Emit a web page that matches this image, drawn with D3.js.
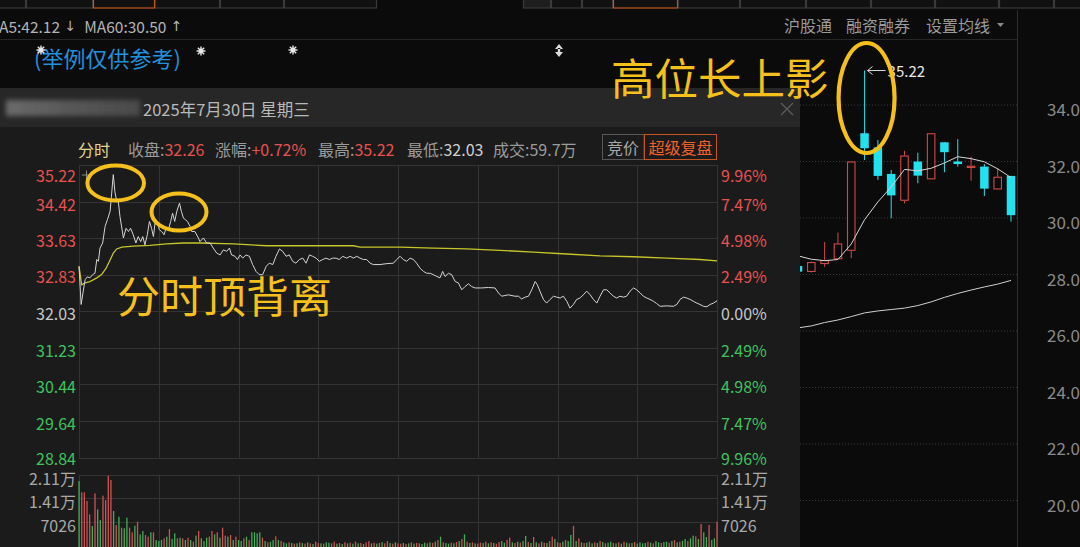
<!DOCTYPE html>
<html><head><meta charset="utf-8">
<script src="https://cdn.jsdelivr.net/npm/d3@7"></script>
<style>
html,body{margin:0;padding:0;background:#0b0b0b;overflow:hidden}
svg{display:block}
text{font-family:"Noto Sans CJK SC","Noto Sans",sans-serif}
</style></head><body>
<svg id="c" width="1080" height="547"></svg>
<script>
// ---------------- DATA ----------------
const prevClose = 32.03;
const priceTicks = [35.22,34.42,33.63,32.83,32.03,31.23,30.44,29.64,28.84];
const pctLabels = ["9.96%","7.47%","4.98%","2.49%","0.00%","2.49%","4.98%","7.47%","9.96%"];
const volTicks = [21100,14100,7026];
const volTickLabels = ["2.11万","1.41万","7026"];
const gridMinutes = [0,30,60,90,120,150,180,210,240];

const lineMinutes = [0,0.8,1.6,2.3,3.1,4.1,5.1,6.0,6.7,7.3,7.9,8.9,9.8,10.7,11.7,12.3,12.9,13.5,14.2,14.8,15.4,16.7,17.7,18.6,19.4,20.4,21.4,22.3,23.2,24.0,24.8,25.7,26.5,27.3,28.0,28.6,29.5,30.2,31.1,32.0,32.7,33.6,34.5,35.2,36.0,36.8,37.8,38.5,39.3,40.0,40.8,41.8,42.4,43.6,44.9,45.5,46.8,48.0,49.3,50.5,51.8,53.1,54.3,55.6,56.6,57.4,58.7,59.6,60.6,61.6,62.8,64.1,65.3,66.6,67.8,69.1,70.4,71.6,72.9,74.1,75.4,76.6,77.9,79.1,80.4,81.6,82.9,84.2,85.4,86.7,87.9,89.2,90.4,91.7,92.9,94.2,95.4,96.7,97.9,99.2,100.7,102.0,103.2,104.5,105.7,107.0,108.2,109.5,110.7,113.2,115.8,118.3,119.5,120.8,122.0,123.3,124.5,125.8,127.0,128.3,129.6,130.8,132.1,133.3,134.6,135.8,136.8,137.7,139.0,140.2,141.5,142.7,144.0,145.2,146.5,147.7,149.0,151.5,154.0,156.5,157.8,159.0,161.5,164.0,165.3,166.5,167.8,169.1,170.3,171.6,172.4,173.4,174.7,175.9,177.2,178.5,179.7,181.0,182.2,183.5,184.7,186.0,187.2,188.5,189.7,191.0,192.3,193.5,194.8,196.0,197.3,198.5,199.8,201.0,202.3,203.5,204.8,206.0,207.3,208.6,209.8,211.1,212.3,213.6,214.8,216.1,217.3,218.6,221.1,223.6,224.9,226.1,227.4,228.6,229.9,231.1,232.4,233.6,234.9,236.2,237.4,238.7,240];
const linePrices = [33.01,32.18,32.47,32.72,32.78,32.76,32.83,32.86,33.16,33.12,33.41,33.52,33.88,34.03,34.21,34.61,35.01,34.64,34.42,34.42,34.10,33.63,33.84,33.77,33.84,33.70,33.52,33.66,33.55,33.66,33.48,33.70,33.99,33.84,33.66,33.95,33.99,33.81,33.77,33.70,33.84,33.81,33.99,34.17,33.99,34.21,34.39,34.21,34.06,34.03,33.99,33.88,33.77,33.77,33.63,33.55,33.63,33.52,33.52,33.41,33.30,33.26,33.37,33.34,33.41,33.26,33.23,33.16,33.26,33.19,33.26,33.23,33.05,32.90,32.83,32.83,33.01,33.08,33.05,33.23,33.39,33.34,33.23,33.26,33.12,33.08,33.16,33.19,33.08,33.26,33.23,33.19,33.12,33.16,33.19,33.16,33.19,33.19,33.16,33.23,33.19,33.23,33.19,33.23,33.19,33.16,33.16,33.08,33.05,33.05,33.07,33.08,33.16,33.23,33.16,33.12,33.19,33.16,33.08,32.97,32.90,32.86,32.86,32.83,32.79,32.76,32.90,32.79,32.86,32.83,32.68,32.65,32.50,32.57,32.63,32.57,32.54,32.54,32.55,32.54,32.43,32.36,32.39,32.36,32.36,32.30,32.34,32.36,32.50,32.68,32.61,32.47,32.29,32.21,32.29,32.36,32.34,32.32,32.36,32.25,32.10,32.18,32.29,32.32,32.39,32.47,32.39,32.29,32.21,32.36,32.50,32.50,32.43,32.36,32.32,32.36,32.34,32.36,32.47,32.54,32.50,32.43,32.36,32.32,32.29,32.25,32.20,32.14,32.15,32.14,32.18,32.29,32.34,32.32,32.29,32.25,32.21,32.18,32.14,32.13,32.18,32.21,32.26];

const avgMinutes = [0,1.0,2.3,4.1,6.7,8.5,10.2,11.7,12.9,14.2,16.1,20.4,26.7,33.0,39.3,45.5,58.1,70.6,83.1,103.2,105.7,120.8,133.3,145.9,158.4,170.9,183.5,196.0,208.6,221.1,233.6,240];
const avgPrices = [33.01,32.61,32.65,32.68,32.76,32.83,32.97,33.15,33.30,33.39,33.43,33.45,33.47,33.50,33.52,33.52,33.50,33.46,33.46,33.46,33.43,33.43,33.41,33.39,33.36,33.32,33.28,33.24,33.22,33.19,33.16,33.13];

const volumes = [19200,15800,15800,13200,9200,5700,15500,10700,7500,14800,
13500,20800,19500,10200,6000,8500,5200,5000,8200,5200,
3800,5800,7000,3200,4200,3000,2500,3800,3800,1500,
1200,1500,2000,2500,4800,1800,3500,2000,2200,2000,
1500,2200,1500,1000,2800,4200,2000,1200,2200,2500,
4200,3200,3800,2200,5200,2800,2500,3000,1500,2500,
1500,1200,2000,2500,1500,3800,3800,3500,3800,2200,
1200,800,1000,1500,2600,1500,1200,800,500,800,
600,400,500,800,
600,400,800,500,300,1000,600,500,400,800,
700,500,1000,400,600,300,800,500,700,400,
1000,500,600,300,800,1200,500,700,400,600,
900,500,1200,600,400,800,500,
400,600,300,500,800,400,600,500,300,700,
500,800,600,1000,1500,2500,800,600,400,700,
500,900,1200,1800,3200,1000,600,800,500,400,
700,600,1000,500,800,600,400,900,1200,700,
1500,2200,800,600,1000,700,1200,2700,900,600,
2400,800,500,1000,700,600,1200,2500,1800,800,
600,1000,1500,1200,3000,5700,1200,2000,800,600,
700,1000,500,800,600,1200,900,500,700,1000,
600,500,800,400,1000,700,500,600,900,400,
800,500,600,1000,700,500,1200,800,600,900,
1000,700,1200,1500,800,1000,1300,1800,1200,2000,
2800,2600,1800,6300,3800,2400,6000,1500,2000,7000];
const volumeDirs =
 "grrrrgrggr"+"rrrgrgrggr"+"rgrggrrgrg"+"ggrgrggrgr"+"grgrgrgggr"+"rgrgrrgrgr"+"ggrgrggggr"+"grggrgrggr"+"grgr"+
 "grgrgrrgrg"+"grrgrgrgrg"+"rgrgrrgrgr"+"grrgrgr"+
 "rgrgrgrrgg"+"rgrgrgrggr"+"grgrgrgrgr"+"rgrgrgrrgg"+"rrgrgrggrg"+"rgrgrgrrgr"+
 "rgrggrgrgr"+"grgrgrgrgg"+"rgrgrgrgrg"+"gggrgrggrg"+"grgrgrggrg"+"grgrggrggr";

// daily K-line (last 17 sessions; index 5 is 2025-07-30)
const kOpen  = [28.30,28.09,28.37,28.54,28.84,33.00,32.50,31.56,30.61,32.00,31.37,32.68,32.00,31.77,31.82,31.01,31.49];
const kClose = [28.10,28.44,28.51,29.10,32.00,32.47,31.49,30.80,32.21,31.50,33.00,32.33,31.91,31.85,31.04,31.46,30.10];
const kHigh  = [28.35,28.46,29.15,29.48,32.00,35.22,32.76,31.70,32.38,32.31,33.00,32.68,32.79,32.17,31.91,31.76,31.49];
const kLow   = [28.05,28.07,28.27,28.54,28.58,32.05,31.35,29.99,30.52,31.23,31.37,31.62,31.82,31.32,30.78,31.01,29.87];
const kMA5   = [28.66,28.54,28.49,28.53,29.08,29.94,30.57,31.10,31.72,31.67,31.76,31.95,32.17,32.10,31.99,31.74,31.43];
const kMA60  = [26.11,26.18,26.30,26.39,26.51,26.64,26.71,26.76,26.81,26.90,27.03,27.19,27.33,27.45,27.56,27.66,27.79];
const kTicks = [34,32,30,28,26,24,22,20];
const kHighLabel = "35.22";

const infoNames  = ["收盘:","涨幅:","最高:","最低:","成交:"];
const infoValues = ["32.26","+0.72%","35.22","32.03","59.7万"];
const topLinks = ["沪股通","融资融券","设置均线"];

// ---------------- DRAW ----------------
const svg = d3.select("#c");
const RED = "#e6524f", GREEN = "#3fc35e", GREY = "#c8c8c8";
const YEL = "#f5c01c";

svg.append("rect").attr("width",1080).attr("height",547).attr("fill","#0b0b0b");
const defs = svg.append("defs");

// top tab bar (mostly cut off)
const tabsL = [-2,26,93,155,220,284,377];
const tabsR = [523,551,582,613,678,740,806,871,935,999,1054,1084];
function tabs(edges, hot, firstGrey){
  for(let i=0;i<edges.length-1;i++){
    svg.append("rect").attr("x",edges[i]+0.5).attr("y",-8).attr("width",edges[i+1]-edges[i]-1).attr("height",16)
      .attr("fill", (firstGrey && i===0) ? "#1e1e1e" : "#111").attr("stroke", i===hot?"#c9561f":"#3a3a3a").attr("stroke-width",1.2);
  }
}
tabs(tabsL,2,false); tabs(tabsR,3,true);

// MA row
const maRow = svg.append("text").attr("x",-1).attr("y",26).attr("dominant-baseline","central")
  .attr("font-size",15.5).attr("fill","#b4b4b4").attr("xml:space","preserve");
maRow.append("tspan").text("A5:42.12");
maRow.append("tspan").attr("font-family","DejaVu Sans").attr("font-size",14).text(" ↓ ");
maRow.append("tspan").text(" MA60:30.50");
maRow.append("tspan").attr("font-family","DejaVu Sans").attr("font-size",14).text(" ↑");
const linkX = [784,846,926];
topLinks.forEach((t,i)=>{
  svg.append("text").attr("x",linkX[i]).attr("y",25).attr("dominant-baseline","central").attr("font-size",16)
    .attr("fill","#9a9a9a").text(t);
});
svg.append("path").attr("d","M997,23 L1004,23 L1000.5,27 Z").attr("fill","#8a8a8a");
svg.append("line").attr("x1",0).attr("x2",1017).attr("y1",39.5).attr("y2",39.5).attr("stroke","#262626");
svg.append("line").attr("x1",1017.5).attr("x2",1017.5).attr("y1",10).attr("y2",547).attr("stroke","#2e2e2e");

// blue caption + small icons
svg.append("text").attr("x",34).attr("y",57).attr("dominant-baseline","central").attr("font-size",22)
  .attr("fill","#2390dc").text("(举例仅供参考)");
[[41,50],[201,51],[293,50]].forEach(([cx,cy])=>{
  const g = svg.append("g").attr("transform",`translate(${cx},${cy})`);
  for(let a=0;a<8;a++){
    const ang = a*Math.PI/4;
    g.append("line").attr("x1",0).attr("y1",0).attr("x2",4.5*Math.cos(ang)).attr("y2",4.5*Math.sin(ang))
      .attr("stroke","#e8e8e8").attr("stroke-width",1.4);
  }
  g.append("circle").attr("r",2.4).attr("fill","#e8e8e8");
});
svg.append("path").attr("d","M559,44 L555,49 L563,49 Z M555,52 L563,52 L559,57 Z M557.8,48 h2.4 v5 h-2.4 Z").attr("fill","#dcdcdc");

// ---------- K-line ----------
const kx = d3.scalePoint().domain(d3.range(kOpen.length)).range([798,1011]);
const ky = d3.scaleLinear().domain([20,34]).range([500.5,105]);
defs.append("clipPath").attr("id","kclip").append("rect")
  .attr("x",800).attr("y",40).attr("width",218).attr("height",507);
const kg = svg.append("g").attr("clip-path","url(#kclip)");
kTicks.forEach(t=>{
  kg.append("line").attr("x1",800).attr("x2",1022).attr("y1",ky(t)).attr("y2",ky(t))
    .attr("stroke","#3a3a3a").attr("stroke-dasharray","1,2");
});
svg.selectAll(".ktick").data(kTicks).enter().append("text").attr("class","ktick")
  .attr("x",1047).attr("y",d=>ky(d)+3.5).attr("dominant-baseline","central")
  .attr("font-size",17).attr("fill","#8a8a8a").text(d=>d.toFixed(2));
const lineK = (arr)=> d3.line().x((d,i)=>kx(i)).y(d=>ky(d))(arr);
kg.append("path").attr("d",lineK(kMA60)).attr("fill","none").attr("stroke","#cfcfcf").attr("stroke-width",1);
const CW = 8.5;
kOpen.forEach((o,i)=>{
  const c = kClose[i], h = kHigh[i], l = kLow[i], cx = kx(i);
  const up = c >= o;
  const top = ky(Math.max(o,c)), bot = ky(Math.min(o,c));
  const col = up ? "#d24a48" : "#22e2ef";
  if(up){
    kg.append("line").attr("x1",cx).attr("x2",cx).attr("y1",ky(h)).attr("y2",top).attr("stroke",col);
    kg.append("line").attr("x1",cx).attr("x2",cx).attr("y1",bot).attr("y2",ky(l)).attr("stroke",col);
    kg.append("rect").attr("x",cx-CW/2+0.5).attr("y",top+0.5).attr("width",CW-1).attr("height",Math.max(bot-top-1,1))
      .attr("fill","#0b0b0b").attr("stroke",col).attr("stroke-width",1.1);
  } else {
    kg.append("line").attr("x1",cx).attr("x2",cx).attr("y1",ky(h)).attr("y2",ky(l)).attr("stroke",col);
    kg.append("rect").attr("x",cx-CW/2).attr("y",top).attr("width",CW).attr("height",Math.max(bot-top,1.5)).attr("fill",col);
  }
});
kg.append("path").attr("d",lineK(kMA5)).attr("fill","none").attr("stroke","#d6d6d6").attr("stroke-width",1);

// high label on the highlighted session
const hiIdx = kHigh.indexOf(d3.max(kHigh));
const hx = kx(hiIdx), hy = ky(kHigh[hiIdx]);
svg.append("line").attr("x1",hx+3).attr("x2",hx+21).attr("y1",hy).attr("y2",hy).attr("stroke","#dcdcdc");
svg.append("path").attr("d",`M${hx+8},${hy-4} L${hx+3},${hy} L${hx+8},${hy+4}`).attr("fill","none").attr("stroke","#dcdcdc");
svg.append("text").attr("x",hx+23).attr("y",hy).attr("dominant-baseline","central").attr("font-size",15)
  .attr("fill","#e6e6e6").text(kHighLabel);
svg.append("ellipse").attr("cx",hx+2).attr("cy",98).attr("rx",28).attr("ry",55)
  .attr("fill","none").attr("stroke",YEL).attr("stroke-width",4.2);

// ---------- Popup (intraday) ----------
const pop = svg.append("g");
pop.append("rect").attr("x",0).attr("y",88).attr("width",800).attr("height",459).attr("fill","#1b1b1b");
pop.append("rect").attr("x",0).attr("y",88).attr("width",800).attr("height",39).attr("fill","#272727");
const bl = defs.append("filter").attr("id","blur").attr("x","-20%").attr("y","-50%").attr("width","140%").attr("height","200%");
bl.append("feGaussianBlur").attr("stdDeviation",2.5);
const gr = defs.append("linearGradient").attr("id","bg1");
gr.append("stop").attr("offset","0").attr("stop-color","#6a6a6a");
gr.append("stop").attr("offset","0.5").attr("stop-color","#565656");
gr.append("stop").attr("offset","1").attr("stop-color","#4a4a4a");
pop.append("rect").attr("x",6).attr("y",100).attr("width",134).attr("height",16).attr("fill","url(#bg1)").attr("filter","url(#blur)");
pop.append("text").attr("x",143).attr("y",109).attr("dominant-baseline","central").attr("font-size",16.5)
  .attr("fill","#b9b9b9").text("2025年7月30日 星期三");
pop.append("path").attr("d","M781,103 L793,115 M793,103 L781,115").attr("stroke","#5e5e5e").attr("stroke-width",1.2);

// info row
pop.append("text").attr("x",78).attr("y",149).attr("dominant-baseline","central").attr("font-size",16)
  .attr("fill","#e2d68c").text("分时");
const infoX = [128,215,318,407,493];
infoNames.forEach((n,i)=>{
  const t = pop.append("text").attr("x",infoX[i]).attr("y",149).attr("dominant-baseline","central").attr("font-size",16);
  t.append("tspan").attr("fill","#9c9c9c").text(n);
  const vcol = i<3 ? RED : (i===3 ? "#cfcfcf" : "#9c9c9c");
  t.append("tspan").attr("fill",vcol).text(infoValues[i]);
});
pop.append("rect").attr("x",602.5).attr("y",134.5).attr("width",41.5).attr("height",25).attr("fill","none").attr("stroke","#575757");
pop.append("text").attr("x",623).attr("y",147).attr("text-anchor","middle").attr("dominant-baseline","central")
  .attr("font-size",16).attr("fill","#a8a8a8").text("竞价");
pop.append("rect").attr("x",644.5).attr("y",134.5).attr("width",72).attr("height",25).attr("fill","none").attr("stroke","#c4531f");
pop.append("text").attr("x",680.5).attr("y",147).attr("text-anchor","middle").attr("dominant-baseline","central")
  .attr("font-size",16).attr("fill","#f0622a").text("超级复盘");

// scales
const x = d3.scaleLinear().domain([0,240]).range([79,717]);
const y = d3.scaleLinear().domain([28.84,35.22]).range([457.7,165]);
const yv = d3.scaleLinear().domain([0,21100]).range([545,474.7]);
const GRID = "#343434";

priceTicks.forEach(p=>{
  pop.append("line").attr("x1",79).attr("x2",717).attr("y1",Math.round(y(p))+0.5).attr("y2",Math.round(y(p))+0.5).attr("stroke",GRID);
});
volTicks.forEach(v=>{
  pop.append("line").attr("x1",79).attr("x2",717).attr("y1",Math.round(yv(v))+0.5).attr("y2",Math.round(yv(v))+0.5).attr("stroke",GRID);
});
gridMinutes.forEach(m=>{
  const xx = Math.round(x(m))+0.5;
  pop.append("line").attr("x1",xx).attr("x2",xx).attr("y1",165).attr("y2",457.7).attr("stroke",GRID);
  pop.append("line").attr("x1",xx).attr("x2",xx).attr("y1",474.7).attr("y2",547).attr("stroke",GRID);
});

// axis labels
const colFor = (p)=> p>prevClose+1e-9 ? RED : (p<prevClose-1e-9 ? GREEN : GREY);
priceTicks.forEach((p,i)=>{
  const yy = y(p) + (i===0 ? 10 : (i===priceTicks.length-1 ? 0.5 : 1.8));
  pop.append("text").attr("x",76).attr("y",yy).attr("text-anchor","end").attr("dominant-baseline","central")
    .attr("font-size",16).attr("fill",colFor(p)).text(p.toFixed(2));
  pop.append("text").attr("x",721).attr("y",yy).attr("dominant-baseline","central")
    .attr("font-size",16).attr("fill",colFor(p)).text(pctLabels[i]);
});
volTicks.forEach((v,i)=>{
  const yy = yv(v) + 3;
  pop.append("text").attr("x",76).attr("y",yy).attr("text-anchor","end").attr("dominant-baseline","central")
    .attr("font-size",16).attr("fill","#a9a9a9").text(volTickLabels[i]);
  pop.append("text").attr("x",721).attr("y",yy).attr("dominant-baseline","central")
    .attr("font-size",16).attr("fill","#a9a9a9").text(volTickLabels[i]);
});
// small crosshair mark
pop.append("path").attr("d","M82,175 h9 M86.5,170.5 v9").attr("stroke","#8a8a8a");

// volume bars
volumes.forEach((v,k)=>{
  const top = yv(v);
  pop.append("rect").attr("x",x(k)-0.6).attr("y",top).attr("width",1.3).attr("height",547-top)
    .attr("fill", volumeDirs[k]==="r" ? "#cf5252" : "#3eae5a");
});

// avg + price lines
const avgData = avgMinutes.map((m,i)=>[m,avgPrices[i]]);
const lineData = lineMinutes.map((m,i)=>[m,linePrices[i]]);
const ln = d3.line().x(d=>x(d[0])).y(d=>y(d[1]));
pop.append("path").attr("d",ln(avgData)).attr("fill","none").attr("stroke","#c6c62a").attr("stroke-width",1.3);
pop.append("path").attr("d",ln(lineData)).attr("fill","none").attr("stroke","#d4d4d4").attr("stroke-width",1);

// annotations on intraday
pop.append("ellipse").attr("cx",115.7).attr("cy",183).attr("rx",28.3).attr("ry",17.5)
  .attr("fill","none").attr("stroke",YEL).attr("stroke-width",4);
pop.append("ellipse").attr("cx",179).attr("cy",212).attr("rx",27.5).attr("ry",18.5)
  .attr("fill","none").attr("stroke",YEL).attr("stroke-width",4);
pop.append("text").attr("x",117).attr("y",294).attr("dominant-baseline","central").attr("font-size",43)
  .attr("fill",YEL).text("分时顶背离");

// big annotation on K-line
svg.append("text").attr("x",611).attr("y",76).attr("dominant-baseline","central").attr("font-size",43.5)
  .attr("fill",YEL).text("高位长上影");
</script>
</body></html>
